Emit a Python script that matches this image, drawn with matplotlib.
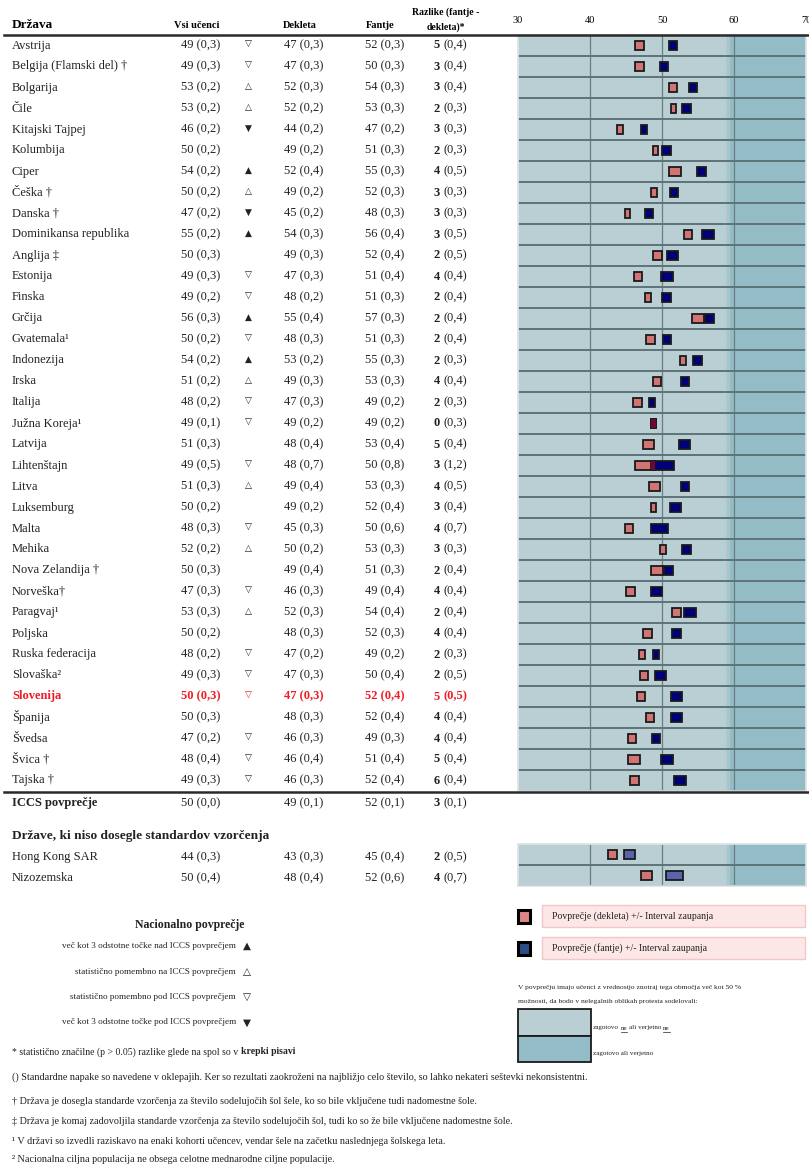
import matplotlib.pyplot as plt
from matplotlib.patches import Rectangle
import numpy as np

plt.rcParams['font.family'] = ['Liberation Serif', 'DejaVu Sans']

countries = ["Avstrija", "Belgija (Flamski del) †", "Bolgarija", "Čile", "Kitajski Tajpej",
             "Kolumbija", "Ciper", "Češka †", "Danska †", "Dominikansa republika",
             "Anglija ‡", "Estonija", "Finska", "Grčija", "Gvatemala¹", "Indonezija",
             "Irska", "Italija", "Južna Koreja¹", "Latvija", "Lihtenštajn", "Litva",
             "Luksemburg", "Malta", "Mehika", "Nova Zelandija †", "Norveška†", "Paragvaj¹",
             "Poljska", "Ruska federacija", "Slovaška²", "Slovenija", "Španija", "Švedsa",
             "Švica †", "Tajska †"]
all_mean = [49, 49, 53, 53, 46, 50, 54, 50, 47, 55, 50, 49, 49, 56, 50, 54, 51, 48,
            49, 51, 49, 51, 50, 48, 52, 50, 47, 53, 50, 48, 49, 50, 50, 47, 48, 49]
all_se = [0.3, 0.3, 0.2, 0.2, 0.2, 0.2, 0.2, 0.2, 0.2, 0.2, 0.3, 0.3, 0.2, 0.3, 0.2, 0.2,
          0.2, 0.2, 0.1, 0.3, 0.5, 0.3, 0.2, 0.3, 0.2, 0.3, 0.3, 0.3, 0.2, 0.2, 0.3, 0.3,
          0.3, 0.2, 0.4, 0.3]
signif = ["▽", "▽", "△", "△", "▼", "", "▲", "△", "▼", "▲", "", "▽", "▽", "▲", "▽", "▲",
          "△", "▽", "▽", "", "▽", "△", "", "▽", "△", "", "▽", "△", "", "▽", "▽", "▽",
          "", "▽", "▽", "▽"]
girls_mean = [47, 47, 52, 52, 44, 49, 52, 49, 45, 54, 49, 47, 48, 55, 48, 53, 49, 47,
              49, 48, 48, 49, 49, 45, 50, 49, 46, 52, 48, 47, 47, 47, 48, 46, 46, 46]
girls_se = [0.3, 0.3, 0.3, 0.2, 0.2, 0.2, 0.4, 0.2, 0.2, 0.3, 0.3, 0.3, 0.2, 0.4, 0.3, 0.2,
            0.3, 0.3, 0.2, 0.4, 0.7, 0.4, 0.2, 0.3, 0.2, 0.4, 0.3, 0.3, 0.3, 0.2, 0.3, 0.3,
            0.3, 0.3, 0.4, 0.3]
boys_mean = [52, 50, 54, 53, 47, 51, 55, 52, 48, 56, 52, 51, 51, 57, 51, 55, 53, 49,
             49, 53, 50, 53, 52, 50, 53, 51, 49, 54, 52, 49, 50, 52, 52, 49, 51, 52]
boys_se = [0.3, 0.3, 0.3, 0.3, 0.2, 0.3, 0.3, 0.3, 0.3, 0.4, 0.4, 0.4, 0.3, 0.3, 0.3, 0.3,
           0.3, 0.2, 0.2, 0.4, 0.8, 0.3, 0.4, 0.6, 0.3, 0.3, 0.4, 0.4, 0.3, 0.2, 0.4, 0.4,
           0.4, 0.3, 0.4, 0.4]
diff = [5, 3, 3, 2, 3, 2, 4, 3, 3, 3, 2, 4, 2, 2, 2, 2, 4, 2, 0, 5, 3, 4, 3, 4, 3, 2, 4,
        2, 4, 2, 2, 5, 4, 4, 5, 6]
diff_se = [0.4, 0.4, 0.4, 0.3, 0.3, 0.3, 0.5, 0.3, 0.3, 0.5, 0.5, 0.4, 0.4, 0.4, 0.4, 0.3,
           0.4, 0.3, 0.3, 0.4, 1.2, 0.5, 0.4, 0.7, 0.3, 0.4, 0.4, 0.4, 0.4, 0.3, 0.5, 0.5,
           0.4, 0.4, 0.4, 0.4]
# unrounded means
girls_pos = [46.9, 46.9, 51.5, 51.6, 44.2, 49.1, 51.8, 48.9, 45.2, 53.6, 49.4, 46.7, 48.1,
             55.0, 48.4, 52.9, 49.3, 46.6, 48.8, 48.1, 47.6, 49.0, 48.8, 45.4, 50.1, 49.3,
             45.6, 52.0, 48.0, 47.2, 47.5, 47.1, 48.3, 45.8, 46.1, 46.2]
boys_pos = [51.5, 50.3, 54.3, 53.4, 47.5, 50.6, 55.5, 51.7, 48.2, 56.4, 51.5, 50.7, 50.6,
            56.6, 50.7, 54.9, 53.2, 48.6, 48.8, 53.1, 50.1, 53.2, 51.9, 49.7, 53.4, 50.9,
            49.2, 53.9, 52.0, 49.2, 49.8, 52.0, 52.0, 49.2, 50.7, 52.5]

iccs = [50, 0.0, 49, 0.1, 52, 0.1, 3, 0.1]

extra_countries = ["Hong Kong SAR", "Nizozemska"]
extra_all = [44, 50]
extra_all_se = [0.3, 0.4]
extra_girls = [43, 48]
extra_girls_se = [0.3, 0.4]
extra_boys = [45, 52]
extra_boys_se = [0.4, 0.6]
extra_diff = [2, 4]
extra_diff_se = [0.5, 0.7]
extra_girls_pos = [43.1, 47.8]
extra_boys_pos = [45.5, 51.7]

xticks = [30, 40, 50, 60, 70]
band_edge = 59

light = '#b9cfd4'
dark = '#94bcc7'
girl_col = '#d27474'
boy_col = '#00007a'
boy_col2 = '#5a64aa'
overlap_col = '#6a0a2c'
red = '#ee1c25'
ink = '#222222'


def fmt(v, se):
    return f"{v} ({se:.1f})".replace('.', ',')


fig = plt.figure(figsize=(8.09, 11.7), dpi=100)
tax = fig.add_axes([0, 0, 1, 1])
tax.set_xlim(0, 809)
tax.set_ylim(1170, 0)
tax.axis('off')
tax.set_zorder(5)
tax.patch.set_visible(False)
W, H = 809, 1170


def panel(top, bottom, nrows):
    a = fig.add_axes([518 / W, 1 - bottom / H, 288 / W, (bottom - top) / H])
    a.set_xlim(30, 70)
    a.set_ylim(nrows, 0)
    a.axvspan(30, band_edge, color=light, zorder=0)
    a.axvspan(band_edge, 70, color=dark, zorder=0)
    a.axvspan(band_edge, band_edge + 0.4, color='#a6c5cd', zorder=0, lw=0)
    a.vlines(xticks[1:-1], 0, nrows, color='#6b7d82', lw=0.9, zorder=1)
    a.hlines(np.arange(1, nrows + 1), 30, 70, color='#5e7378', lw=1.4, zorder=1)
    a.set_yticks([])
    for s in a.spines.values():
        s.set_color('#dde4e6')
        s.set_linewidth(1.2)
    return a


def markers(a, gpos, gse, bpos, bse, bcol):
    h = 0.40
    for i in range(len(gpos)):
        y0 = i + 0.5 - h / 2
        g0, g1 = gpos[i] - 1.96 * gse[i], gpos[i] + 1.96 * gse[i]
        b0, b1 = bpos[i] - 1.96 * bse[i], bpos[i] + 1.96 * bse[i]
        a.add_patch(Rectangle((g0, y0), g1 - g0, h, fc=girl_col, ec='#1a1a1a', lw=1.3, zorder=3))
        a.add_patch(Rectangle((b0, y0), b1 - b0, h, fc=bcol, ec='#1a1a1a', lw=1.3, zorder=3))
        lo, hi = max(g0, b0), min(g1, b1)
        if hi > lo:
            a.add_patch(Rectangle((lo, y0), hi - lo, h, fc=overlap_col, ec='none', zorder=4))


ax = panel(35, 791, len(countries))
ax.xaxis.tick_top()
ax.set_xticks(xticks)
ax.tick_params(length=0, pad=7, labelsize=7.5)
markers(ax, girls_pos, girls_se, boys_pos, boys_se, boy_col)

ax2 = panel(844, 886, len(extra_countries))
ax2.set_xticks([])
markers(ax2, extra_girls_pos, extra_girls_se, extra_boys_pos, extra_boys_se, boy_col2)

# header
hkw = dict(fontweight='bold', va='center')
tax.text(12, 25, "Država", fontsize=9.5, ha='left', **hkw)
tax.text(197, 26, "Vsi učenci", fontsize=7.5, ha='center', **hkw)
tax.text(300, 26, "Dekleta", fontsize=7.5, ha='center', **hkw)
tax.text(380, 26, "Fantje", fontsize=7.5, ha='center', **hkw)
tax.text(446, 12, "Razlike (fantje -", fontsize=7, ha='center', **hkw)
tax.text(446, 27, "dekleta)*", fontsize=7, ha='center', **hkw)
tax.plot([4, 809], [35, 35], color='#2a2a2a', lw=1.8)
tax.plot([4, 809], [792, 792], color='#2a2a2a', lw=1.8)

fs = 9


def row(y, name, a, ase, sym, g, gse, b, bse, d, dse, color=ink, highlight=False,
        bold_name=False):
    vw = 'bold' if highlight else 'normal'
    tax.text(12, y, name, fontsize=fs, ha='left', va='center', color=color,
             fontweight='bold' if (bold_name or highlight) else 'normal')
    tax.text(201, y, fmt(a, ase), fontsize=fs, ha='center', va='center', color=color,
             fontweight=vw)
    if sym:
        tax.text(248, y - 1, sym, fontsize=6.5, ha='center', va='center', color=color,
                 family=['DejaVu Sans'])
    tax.text(304, y, fmt(g, gse), fontsize=fs, ha='center', va='center', color=color,
             fontweight=vw)
    tax.text(385, y, fmt(b, bse), fontsize=fs, ha='center', va='center', color=color,
             fontweight=vw)
    tax.text(440, y, str(d), fontsize=fs, ha='right', va='center', color=color, fontweight='bold')
    tax.text(444, y, f"({dse:.1f})".replace('.', ','), fontsize=fs, ha='left', va='center',
             color=color, fontweight=vw)


for i, c in enumerate(countries):
    y = 45.5 + 21 * i
    is_slo = c == "Slovenija"
    row(y, c, all_mean[i], all_se[i], signif[i], girls_mean[i], girls_se[i], boys_mean[i],
        boys_se[i], diff[i], diff_se[i], color=red if is_slo else ink, highlight=is_slo)

row(803, "ICCS povprečje", iccs[0], iccs[1], "", iccs[2], iccs[3], iccs[4], iccs[5],
    iccs[6], iccs[7], bold_name=True)
tax.text(12, 836, "Države, ki niso dosegle standardov vzorčenja", fontsize=9.6,
         fontweight='bold', ha='left', va='center', color=ink)
for i, c in enumerate(extra_countries):
    row(857 + 21 * i, c, extra_all[i], extra_all_se[i], "", extra_girls[i], extra_girls_se[i],
        extra_boys[i], extra_boys_se[i], extra_diff[i], extra_diff_se[i])

# national average legend
tax.text(190, 925, "Nacionalno povprečje", fontsize=8.5, fontweight='bold', ha='center',
         va='center', color=ink)
leg_items = [("več kot 3 odstotne točke nad ICCS povprečjem", "▲"),
             ("statistično pomembno na ICCS povprečjem", "△"),
             ("statistično pomembno pod ICCS povprečjem", "▽"),
             ("več kot 3 odstotne točke pod ICCS povprečjem", "▼")]
for k, (lab, sym) in enumerate(leg_items):
    yy = 946 + 25.5 * k
    tax.text(236, yy, lab, fontsize=6.6, ha='right', va='center', color=ink)
    tax.text(247, yy, sym, fontsize=7.5, ha='center', va='center', color=ink,
             family=['DejaVu Sans'])

# marker legend
for yy, fc, lab in [(916, '#dc8686', "Povprečje (dekleta) +/- Interval zaupanja"),
                    (948, '#2e4d86', "Povprečje (fantje) +/- Interval zaupanja")]:
    tax.add_patch(Rectangle((518, yy - 6), 12, 13, fc=fc, ec='black', lw=2.2))
    tax.add_patch(Rectangle((542, yy - 11), 263, 22, fc='#fde6e6', ec='#efc9c9', lw=1))
    tax.text(552, yy, lab, fontsize=7, ha='left', va='center', color=ink)

tax.text(518, 988, "V povprečju imajo učenci z vrednostjo znotraj tega območja več kot 50 %",
         fontsize=5.4, ha='left', va='center', color=ink)
tax.text(518, 1002, "možnosti, da bodo v nelegalnih oblikah protesta sodelovali:",
         fontsize=5.4, ha='left', va='center', color=ink)
tax.add_patch(Rectangle((518, 1009), 73, 27, fc=light, ec='#1a1a1a', lw=1.3))
tax.add_patch(Rectangle((518, 1036), 73, 26, fc=dark, ec='#1a1a1a', lw=1.3))

renderer = fig.canvas.get_renderer()


def runs(x, y, parts, fsize, underline=()):
    for k, (s, w) in enumerate(parts):
        t = tax.text(x, y, s, fontsize=fsize, fontweight=w, ha='left', va='center', color=ink)
        bb = t.get_window_extent(renderer)
        if k in underline:
            tax.plot([x, x + bb.width], [y + 4, y + 4], color=ink, lw=0.5)
        x += bb.width + fsize * 0.35
    return x


runs(593, 1028, [("zagotovo", 'normal'), ("ne", 'normal'), ("ali verjetno", 'normal'),
                 ("ne", 'normal')], 5.1, underline=(1, 3))
tax.text(593, 1053, "zagotovo ali verjetno", fontsize=5.1, ha='left', va='center', color=ink)

# footnotes
runs(12, 1052, [("* statistično značilne (p > 0.05) razlike glede na spol so v", 'normal'),
                ("krepki pisavi", 'bold')], 7.0)
notes = [(1077, "() Standardne napake so navedene v oklepajih. Ker so rezultati zaokroženi na najbližjo celo število, so lahko nekateri seštevki nekonsistentni."),
         (1102, "† Država je dosegla standarde vzorčenja za število sodelujočih šol šele, ko so bile vključene tudi nadomestne šole."),
         (1122, "‡ Država je komaj zadovoljila standarde vzorčenja za število sodelujočih šol, tudi ko so že bile vključene nadomestne šole."),
         (1141, "¹ V državi so izvedli raziskavo na enaki kohorti učencev, vendar šele na začetku naslednjega šolskega leta."),
         (1160, "² Nacionalna ciljna populacija ne obsega celotne mednarodne ciljne populacije.")]
for yy, s in notes:
    tax.text(12, yy, s, fontsize=7.3, ha='left', va='center', color=ink)

fig.savefig("out.png", dpi=100)
